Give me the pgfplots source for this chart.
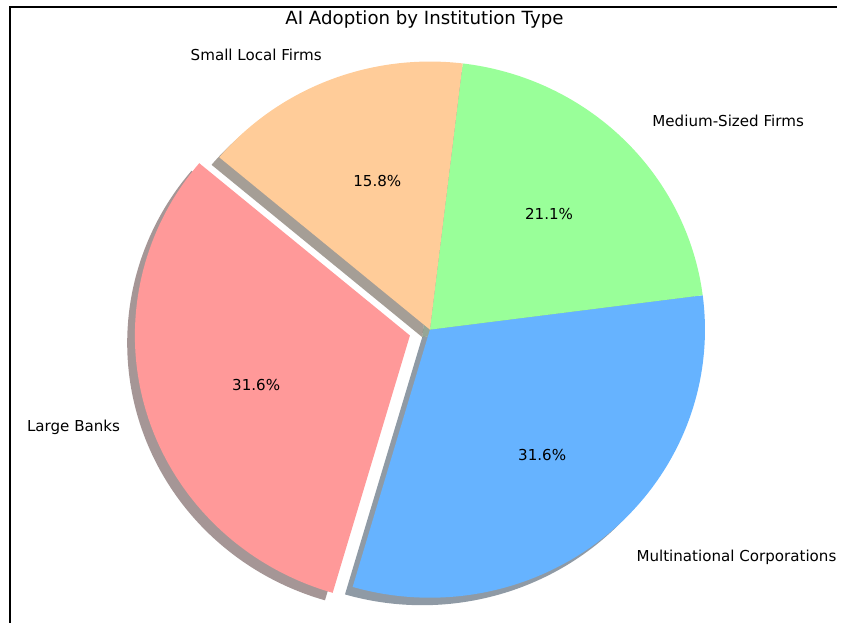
\documentclass[border=0pt]{standalone}
\usepackage{pgfplots}
\usepackage{pgfplotstable}
\pgfplotsset{compat=1.18}
\usepackage{fontspec}
\setmainfont{DejaVu Sans}
\definecolor{cLB}{HTML}{FF9999}
\definecolor{cMC}{HTML}{66B3FF}
\definecolor{cMS}{HTML}{99FF99}
\definecolor{cSL}{HTML}{FFCC99}
\definecolor{sLB}{rgb}{0.3,0.18,0.18}
\definecolor{sMC}{rgb}{0.12,0.2106,0.3}
\definecolor{sMS}{rgb}{0.18,0.3,0.18}
\definecolor{sSL}{rgb}{0.3,0.24,0.18}
\pgfplotstableread{
label value
LB 6
MC 6
MS 4
SL 3
}\piedata
% wedge: cx, cy, start angle, end angle, style
\newcommand{\piewedge}[5]{%
  \addplot[#5, draw=none, domain=0:1, samples=151, variable=\t]
   ({#1 + ((\t<0.003) ? 0 : cos(#3+(#4-#3)*max(\t-1/150,0)*150/149))},
    {#2 + ((\t<0.003) ? 0 : sin(#3+(#4-#3)*max(\t-1/150,0)*150/149))});
}
\begin{document}
\begin{tikzpicture}
\pgfplotstablegetelem{0}{value}\of\piedata \let\vA\pgfplotsretval
\pgfplotstablegetelem{1}{value}\of\piedata \let\vB\pgfplotsretval
\pgfplotstablegetelem{2}{value}\of\piedata \let\vC\pgfplotsretval
\pgfplotstablegetelem{3}{value}\of\piedata \let\vD\pgfplotsretval
\pgfmathsetmacro{\tot}{\vA+\vB+\vC+\vD}
\pgfmathsetmacro{\aA}{140}
\pgfmathsetmacro{\aB}{\aA+360*\vA/\tot}
\pgfmathsetmacro{\aC}{\aB+360*\vB/\tot}
\pgfmathsetmacro{\aD}{\aC+360*\vC/\tot}
\pgfmathsetmacro{\aE}{\aD+360*\vD/\tot}
\pgfmathsetmacro{\mA}{(\aA+\aB)/2}
\pgfmathsetmacro{\ex}{0.076*cos(\mA)}
\pgfmathsetmacro{\ey}{0.076*sin(\mA)}
\pgfmathsetmacro{\sx}{\ex-0.028}
\pgfmathsetmacro{\sy}{\ey-0.028}
\pgfmathsetmacro{\pA}{100*\vA/\tot}
\pgfmathsetmacro{\pB}{100*\vB/\tot}
\pgfmathsetmacro{\pC}{100*\vC/\tot}
\pgfmathsetmacro{\pD}{100*\vD/\tot}
\begin{axis}[
  width=421.5pt, height=313.5pt, scale only axis,
  xmin=-1.5632, xmax=1.4801, ymin=-1.0926, ymax=1.2296,
  hide axis, clip=false,
  every node/.style={inner sep=0pt},
  /pgf/number format/assume math mode=true,
]
% full picture area
\path (rel axis cs:0,0) rectangle (rel axis cs:1,1);
% shadows
\piewedge{\sx}{\sy}{\aA}{\aB}{fill=sLB, fill opacity=0.5}
\piewedge{-0.028}{-0.028}{\aB}{\aC}{fill=sMC, fill opacity=0.5}
\piewedge{-0.028}{-0.028}{\aC}{\aD}{fill=sMS, fill opacity=0.5}
\piewedge{-0.028}{-0.028}{\aD}{\aE}{fill=sSL, fill opacity=0.5}
% wedges
\piewedge{\ex}{\ey}{\aA}{\aB}{fill=cLB}
\piewedge{0}{0}{\aB}{\aC}{fill=cMC}
\piewedge{0}{0}{\aC}{\aD}{fill=cMS}
\piewedge{0}{0}{\aD}{\aE}{fill=cSL}
% labels
\node[anchor=east, font=\fontsize{7.6}{9}\selectfont] at (axis cs:-1.1011,-0.363) {Large Banks};
\node[anchor=west, font=\fontsize{7.6}{9}\selectfont] at (axis cs:0.7256,-0.848) {Multinational Corporations};
\node[anchor=west, font=\fontsize{7.6}{9}\selectfont] at (axis cs:0.7834,0.7778) {Medium-Sized Firms};
\node[anchor=east, font=\fontsize{7.6}{9}\selectfont] at (axis cs:-0.3682,1.0259) {Small Local Firms};
% percentages
\node[font=\fontsize{7.6}{9}\selectfont] at (axis cs:-0.6318,-0.2074) {\pgfmathprintnumber[fixed,fixed zerofill,precision=1]{\pA}\%};
\node[font=\fontsize{7.6}{9}\selectfont] at (axis cs:0.408,-0.4667) {\pgfmathprintnumber[fixed,fixed zerofill,precision=1]{\pB}\%};
\node[font=\fontsize{7.6}{9}\selectfont] at (axis cs:0.4332,0.4296) {\pgfmathprintnumber[fixed,fixed zerofill,precision=1]{\pC}\%};
\node[font=\fontsize{7.6}{9}\selectfont] at (axis cs:-0.1913,0.5556) {\pgfmathprintnumber[fixed,fixed zerofill,precision=1]{\pD}\%};
% title
\node[anchor=base, font=\fontsize{9.15}{11}\selectfont] at (axis cs:-0.020,1.137) {AI Adoption by Institution Type};
% frame
\draw[line width=1.2pt] (axis cs:-1.5271,-1.0926) -- (axis cs:-1.5271,1.2037) -- (axis cs:1.4801,1.2037);
\end{axis}
\end{tikzpicture}
\end{document}
